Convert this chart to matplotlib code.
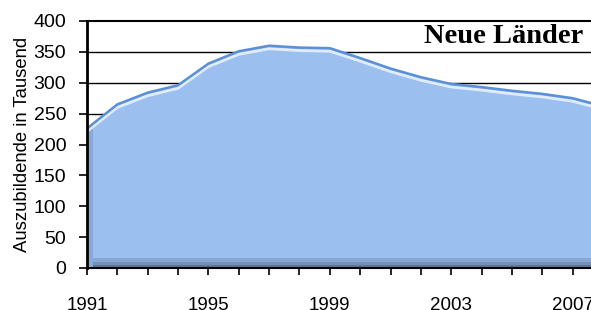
import matplotlib
matplotlib.use("Agg")
import matplotlib.pyplot as plt
import matplotlib.patheffects as pe
from matplotlib.patches import Rectangle

# Auszubildende in den neuen Ländern (Tausend)
years = [1991, 1992, 1993, 1994, 1995, 1996, 1997, 1998, 1999,
         2000, 2001, 2002, 2003, 2004, 2005, 2006, 2007, 2008]
trainees = [226, 265, 284, 296, 331, 351, 360, 357, 356,
            340, 323, 309, 298, 293, 287, 282, 275, 262]
label_years = [1991, 1995, 1999, 2003, 2007]
y_ticks = [0, 50, 100, 150, 200, 250, 300, 350, 400]

fig = plt.figure(figsize=(5.91, 3.10), dpi=100)
ax = fig.add_axes([87 / 591, 1 - 268 / 310, 516 / 591, 247 / 310])

# gridlines behind the area
for v in y_ticks[1:-1]:
    ax.axhline(v, color="black", lw=1, zorder=1)

area = ax.fill_between(years, trainees, color="#9BC0F0", lw=0, zorder=2)
ax.plot(years, trainees, color="#5B8FDA", lw=1.8, zorder=3,
        solid_joinstyle="round",
        path_effects=[pe.SimpleLineShadow(offset=(0, -2.2), shadow_color="white",
                                          alpha=0.7, linewidth=2),
                      pe.Normal()])

# 3D floor / side shading, clipped to the area
shades = [((0, 0), 1, 0.04, "#88A6D2"),
          ((0, 0), 1, 0.025, "#7790B6"),
          ((0, 0), 1, 0.012, "#5F7698"),
          ((0, 0), 0.011, 1, "#88AADB")]
for xy, w, h, c in shades:
    r = Rectangle(xy, w, h, transform=ax.transAxes, color=c, lw=0, zorder=2.5)
    ax.add_patch(r)
    r.set_clip_path(area.get_paths()[0], ax.transData)

ax.set_xlim(1991, 2008)
ax.set_ylim(0, 400)
ax.set_xticks(years)
ax.set_xticklabels([str(y) if y in label_years else "" for y in years])
ax.set_yticks(y_ticks)

for side in ["left", "bottom", "top"]:
    ax.spines[side].set_color("black")
ax.spines["left"].set_linewidth(2)
ax.spines["bottom"].set_linewidth(1.5)
ax.spines["top"].set_linewidth(1.5)
ax.spines["right"].set_visible(False)
for s in ax.spines.values():
    s.set_zorder(5)

for lab in ax.get_xticklabels() + ax.get_yticklabels():
    lab.set_family("Liberation Sans")
ax.tick_params(axis="y", direction="out", length=6, width=1.2, pad=9,
               labelsize=14, colors="black")
ax.tick_params(axis="x", direction="out", length=5, width=1.2, pad=16,
               labelsize=13.5, colors="black")
ax.set_ylabel("Auszubildende in Tausend", family="Liberation Sans",
              fontsize=13.3, labelpad=2)

ax.text(583 / 591, 1 - 43 / 310, "Neue Länder", transform=fig.transFigure,
        ha="right", va="baseline", family="Liberation Serif",
        weight="bold", fontsize=20.5, zorder=6)

fig.savefig("out.png", dpi=100)
